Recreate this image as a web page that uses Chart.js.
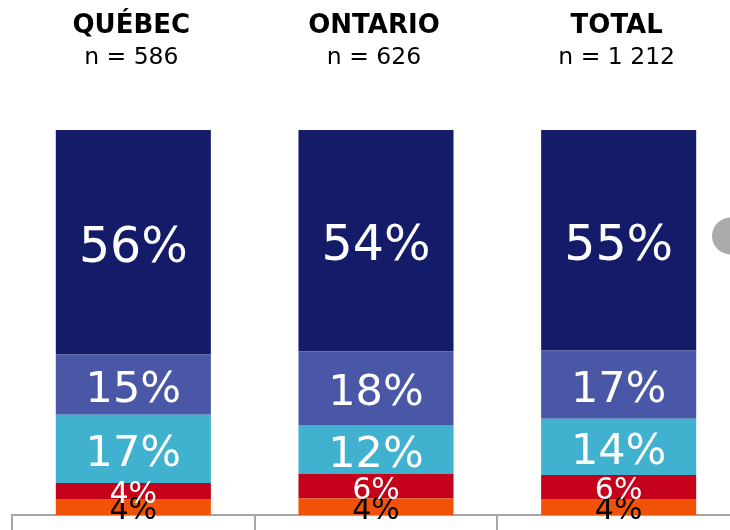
<!DOCTYPE html>
<html>
<head>
<meta charset="utf-8">
<script src="https://cdn.jsdelivr.net/npm/chart.js@4/dist/chart.umd.min.js"></script>
<style>
  html, body { margin: 0; padding: 0; background: #fff; overflow: hidden; }
  canvas { display: block; }
</style>
</head>
<body>
<canvas id="chart" width="740" height="530"></canvas>
<script>
// Régions et tailles d'échantillon
const regions = ["QUÉBEC", "ONTARIO", "TOTAL"];
const sampleSizes = ["n = 586", "n = 626", "n = 1 212"];

// Valeurs (%) de bas en haut de chaque barre
const serie1 = [4, 4, 4];     // orange
const serie2 = [4, 6, 6];     // rouge
const serie3 = [17, 12, 14];  // bleu clair
const serie4 = [15, 18, 17];  // bleu moyen
const serie5 = [56, 54, 55];  // bleu foncé

const series = [serie1, serie2, serie3, serie4, serie5];
const colors = ["#F05206", "#C5001A", "#40B1CE", "#4A56A6", "#141C6A"];
const labelColors = ["#000000", "#ffffff", "#ffffff", "#ffffff", "#ffffff"];
const labelSizes = [30, 30, 43, 43, 49];

// Chaque barre est ramenée à 100 %
const totals = regions.map((_, i) => series.reduce((s, arr) => s + arr[i], 0));

const datasets = series.map((arr, k) => ({
  label: "s" + (k + 1),
  data: arr.map((v, i) => v / totals[i] * 100),
  raw: arr,
  backgroundColor: colors[k],
  borderWidth: 0,
  barPercentage: 0.639,
  categoryPercentage: 1,
}));

// Étiquettes dans les barres, titres en haut et pastille grise
const decorPlugin = {
  id: "decor",
  afterDatasetsDraw(chart) {
    const ctx = chart.ctx;
    ctx.save();
    ctx.textAlign = "center";
    ctx.textBaseline = "alphabetic";
    chart.data.datasets.forEach((ds, k) => {
      const meta = chart.getDatasetMeta(k);
      meta.data.forEach((bar, i) => {
        const cy = (bar.y + bar.base) / 2;
        const size = labelSizes[k];
        ctx.font = size + "px 'DejaVu Sans'";
        ctx.fillStyle = labelColors[k];
        ctx.fillText(ds.raw[i] + "%", bar.x, cy + size * 0.729 / 2 + 1.5);
      });
    });

    // titres
    const xScale = chart.scales.x;
    regions.forEach((r, i) => {
      const x = xScale.getPixelForValue(i) - 2;
      ctx.fillStyle = "#000";
      ctx.font = "bold 26px 'DejaVu Sans'";
      ctx.fillText(r, x, 33);
      ctx.font = "23.5px 'DejaVu Sans'";
      ctx.fillText(sampleSizes[i], x, 64);
    });

    // pastille grise (coupée au bord droit)
    ctx.fillStyle = "#AAAAAA";
    ctx.beginPath();
    ctx.arc(730.5, 236, 18.5, 0, Math.PI * 2);
    ctx.fill();
    ctx.restore();
  },
};

const ctx = document.getElementById("chart").getContext("2d");
const chart = new Chart(ctx, {
  type: "bar",
  data: { labels: regions, datasets: datasets },
  options: {
    responsive: false,
    animation: false,
    layout: { padding: { top: 130, left: 12, right: 0, bottom: 0 } },
    plugins: {
      legend: { display: false },
      tooltip: { enabled: false },
    },
    scales: {
      x: {
        stacked: true,
        grid: {
          offset: true,
          drawOnChartArea: false,
          drawTicks: true,
          tickLength: 15,
          color: "#A6A6A6",
          lineWidth: 2,
        },
        border: { display: true, color: "#A6A6A6", width: 2 },
        ticks: { display: false },
      },
      y: {
        stacked: true,
        display: false,
        min: 0,
        max: 100,
      },
    },
  },
  plugins: [decorPlugin],
});
</script>
</body>
</html>
